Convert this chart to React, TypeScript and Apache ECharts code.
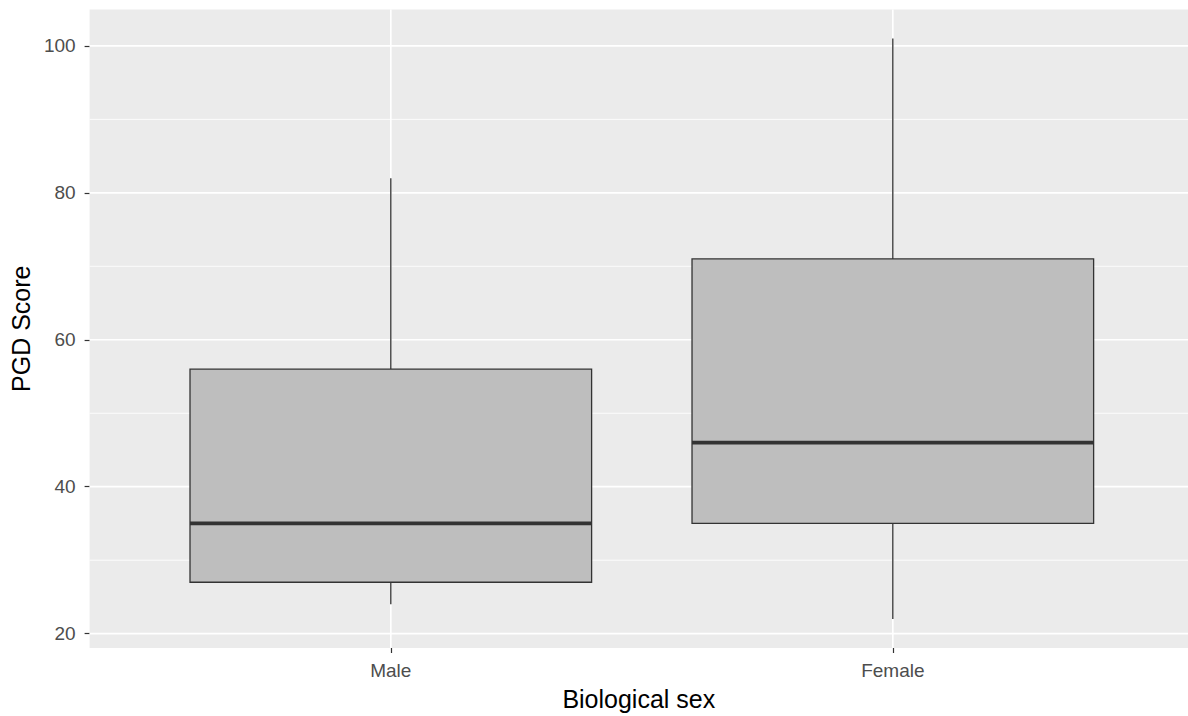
import React, { useEffect, useRef } from 'react';
import * as echarts from 'echarts';

const FONT = '"Liberation Sans", Arial, sans-serif';

const categories = ['Male', 'Female'];
const lowerWhisker = [24, 22];
const q1 = [27, 35];
const median = [35, 46];
const q3 = [56, 71];
const upperWhisker = [82, 101];

const yMajorTicks = [20, 40, 60, 80, 100];
const yMinorBreaks = [30, 50, 70, 90];
const yRange = [18.05, 104.95];
const xRange = [0.4, 2.588];
const boxHalfWidth = 0.4;

export default function App() {
  const ref = useRef<HTMLDivElement>(null);

  useEffect(() => {
    if (!ref.current) return;
    const chart = echarts.init(ref.current, null, { renderer: 'svg' });

    const boxData = categories.map((_, i) => [
      i + 1,
      lowerWhisker[i],
      q1[i],
      median[i],
      q3[i],
      upperWhisker[i],
    ]);
    const hGridData = [
      ...yMajorTicks.map((v) => [1, v, 1.7]),
      ...yMinorBreaks.map((v) => [1, v, 0.85]),
    ];
    const vGridData = categories.map((_, i) => [i + 1, yRange[0]]);

    chart.setOption({
      animation: false,
      backgroundColor: '#ffffff',
      textStyle: { fontFamily: FONT },
      grid: {
        left: 85,
        right: 0,
        top: 9.5,
        bottom: 65,
        show: true,
        backgroundColor: '#EBEBEB',
        borderWidth: 0,
      },
      xAxis: {
        type: 'value',
        min: xRange[0],
        max: xRange[1],
        name: 'Biological sex',
        nameLocation: 'middle',
        nameGap: 38,
        nameTextStyle: { fontSize: 25, color: '#000000', fontFamily: FONT },
        axisLine: { show: false },
        axisTick: {
          show: true,
          customValues: categories.map((_, i) => i + 1),
          length: 5,
          lineStyle: { color: '#333333', width: 1.2 },
        },
        axisLabel: {
          customValues: categories.map((_, i) => i + 1),
          formatter: (v: number) => categories[Math.round(v) - 1] ?? '',
          fontSize: 19,
          color: '#4D4D4D',
          margin: 13,
          fontFamily: FONT,
        },
        splitLine: { show: false },
      },
      yAxis: {
        type: 'value',
        min: yRange[0],
        max: yRange[1],
        name: 'PGD Score',
        nameLocation: 'middle',
        nameGap: 49,
        nameTextStyle: { fontSize: 25, color: '#000000', fontFamily: FONT },
        axisLine: { show: false },
        axisTick: {
          show: true,
          customValues: yMajorTicks,
          length: 5,
          lineStyle: { color: '#333333', width: 1.2 },
        },
        axisLabel: {
          customValues: yMajorTicks,
          fontSize: 19,
          color: '#4D4D4D',
          margin: 14,
          fontFamily: FONT,
        },
        splitLine: { show: false },
      },
      series: [
        {
          type: 'custom',
          name: 'hgrid',
          silent: true,
          z: 1,
          clip: false,
          data: hGridData,
          renderItem: (params: any, api: any) => {
            const cs = params.coordSys;
            const pt = api.coord([api.value(0), api.value(1)]);
            return {
              type: 'line',
              shape: { x1: cs.x, y1: pt[1], x2: cs.x + cs.width, y2: pt[1] },
              style: { stroke: '#FFFFFF', lineWidth: api.value(2) },
            };
          },
        },
        {
          type: 'custom',
          name: 'vgrid',
          silent: true,
          z: 1,
          clip: false,
          data: vGridData,
          renderItem: (params: any, api: any) => {
            const cs = params.coordSys;
            const pt = api.coord([api.value(0), api.value(1)]);
            return {
              type: 'line',
              shape: { x1: pt[0], y1: cs.y, x2: pt[0], y2: cs.y + cs.height },
              style: { stroke: '#FFFFFF', lineWidth: 1.7 },
            };
          },
        },
        {
          type: 'custom',
          name: 'PGD Score',
          z: 3,
          clip: false,
          data: boxData,
          encode: { x: 0, y: [1, 2, 3, 4, 5] },
          renderItem: (params: any, api: any) => {
            const x = api.value(0);
            const pLow = api.coord([x, api.value(1)]);
            const pQ1 = api.coord([x, api.value(2)]);
            const pMed = api.coord([x, api.value(3)]);
            const pQ3 = api.coord([x, api.value(4)]);
            const pHigh = api.coord([x, api.value(5)]);
            const left = api.coord([x - boxHalfWidth, api.value(3)])[0];
            const right = api.coord([x + boxHalfWidth, api.value(3)])[0];
            const stroke = '#333333';
            return {
              type: 'group',
              children: [
                {
                  type: 'line',
                  shape: { x1: pLow[0], y1: pLow[1], x2: pQ1[0], y2: pQ1[1] },
                  style: { stroke, lineWidth: 1.3 },
                },
                {
                  type: 'line',
                  shape: { x1: pQ3[0], y1: pQ3[1], x2: pHigh[0], y2: pHigh[1] },
                  style: { stroke, lineWidth: 1.3 },
                },
                {
                  type: 'rect',
                  shape: { x: left, y: pQ3[1], width: right - left, height: pQ1[1] - pQ3[1] },
                  style: { fill: '#BEBEBE', stroke, lineWidth: 1.3 },
                },
                {
                  type: 'line',
                  shape: { x1: left, y1: pMed[1], x2: right, y2: pMed[1] },
                  style: { stroke, lineWidth: 3.8 },
                },
              ],
            };
          },
        },
      ],
    });

    return () => {
      chart.dispose();
    };
  }, []);

  return (
    <div
      ref={ref}
      style={{ position: 'fixed', left: 0, top: 0, width: '1188px', height: '716px', overflow: 'hidden' }}
    />
  );
}
